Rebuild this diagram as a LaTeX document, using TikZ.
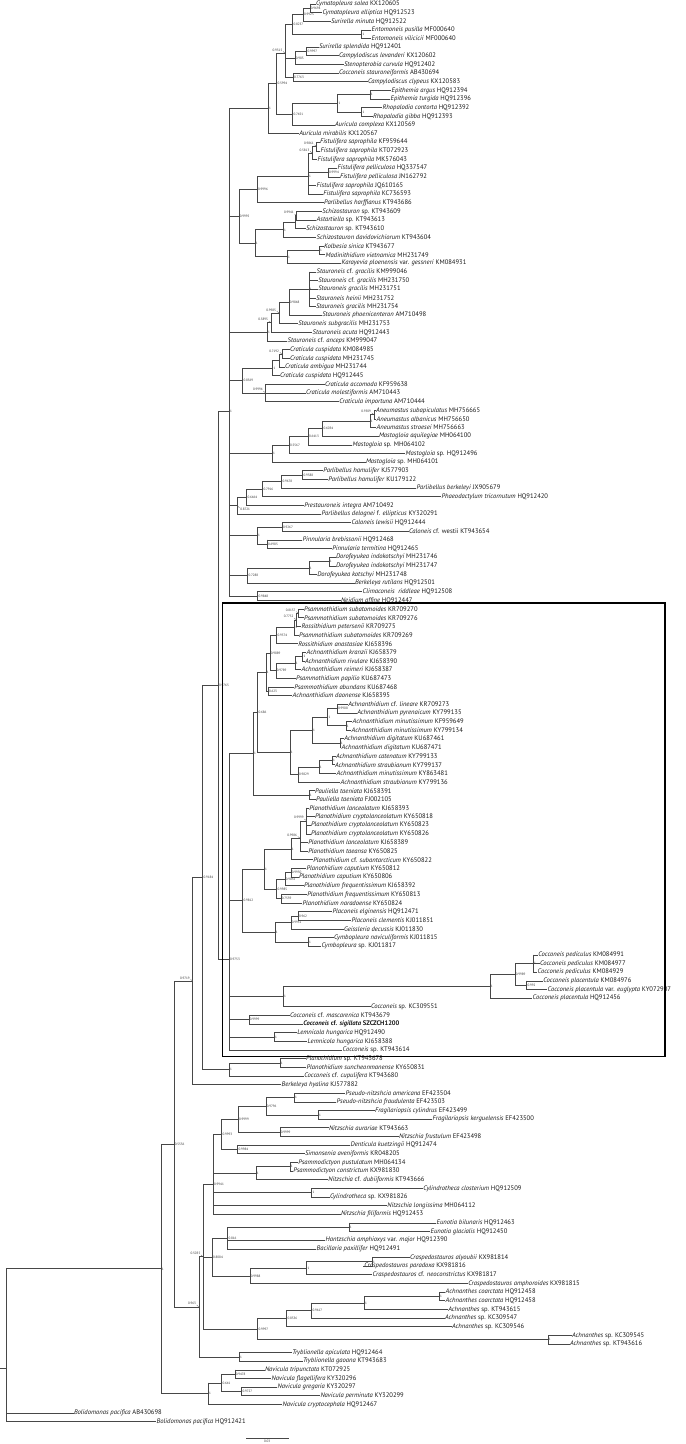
\documentclass[tikz,border=0pt]{standalone}
\usepackage{fontspec}
\setmainfont{PT Sans}
\newcommand\tx[1]{\textit{#1}}
\newdimen\ndtmp
\tikzset{
  br/.style={draw=black!72, line width=0.75pt, line cap=rect},
  lfl/.style={anchor=west, inner xsep=0.6pt, inner ysep=0pt, font=\fontsize{6.6}{7}\selectfont, text=black!90},
  sup/.style={anchor=west, inner xsep=0.6pt, inner ysep=0pt, font=\fontsize{3.3}{3.6}\selectfont, text=black!80},
  ldr/.style={draw=black!60, line width=0.3pt},
  boxst/.style={draw=black, line width=1.3pt},
}
\newcommand\lf[3]{\coordinate (L#1) at (#2-0.8,#1); \node[lfl] (T#1) at (L#1) {#3};}
\newcommand\nd[4]{%
  \gdef\ndsum{0}\gdef\ndcnt{0}\gdef\ndfirst{}%
  \foreach \c in {#3}{%
    \pgfextracty{\ndtmp}{\pgfpointanchor{\c}{center}}%
    \pgfmathsetmacro\ndtmps{\ndsum+\ndtmp}\xdef\ndsum{\ndtmps}%
    \pgfmathsetmacro\ndtmpc{\ndcnt+1}\xdef\ndcnt{\ndtmpc}%
    \ifx\ndfirst\empty\xdef\ndfirst{\c}\fi
    \xdef\ndlast{\c}%
  }%
  \pgfmathsetmacro\ndy{\ndsum/\ndcnt}%
  \coordinate (#1) at ([yshift=\ndy pt]#2,0);
  \edef\ndtmpdraw{\noexpand\draw[br] (#1 |- \ndfirst) -- (#1 |- \ndlast);}\ndtmpdraw
  \foreach \c in {#3}{\draw[br] (#1 |- \c) -- (\c);}%
  \node[sup] (#1s) at (#1) {#4};
}
\newcommand\ndq[5]{%
  \nd{#1}{#2}{#3}{}%
  \ifnum#5=0
    \node[sup, anchor=south east] (#1p) at ([xshift=-2.2pt,yshift=1.8pt]#1) {#4};
    \draw[ldr] (#1p.south east) -- (#1);
  \else
    \node[sup, anchor=north west] (#1p) at ([xshift=2.2pt,yshift=-2.2pt]#1) {#4};
    \draw[ldr] (#1p.north west) -- (#1);
  \fi
}
\begin{document}
\begin{tikzpicture}[x=1pt,y=-8.645pt]
\useasboundingbox (0,0.5373) rectangle (685,167.57);
% ---------------- leaves
\lf{1}{316}{\tx{Cymatopleura solea} KX120605}
\lf{2}{322.7}{\tx{Cymatopleura elliptica} HQ912523}
\lf{3}{331}{\tx{Surirella minuta} HQ912522}
\lf{4}{371.7}{\tx{Entomoneis pusilla} MF000640}
\lf{5}{371.7}{\tx{Entomoneis vilicicii} MF000640}
\lf{6}{319}{\tx{Surirella splendida} HQ912401}
\lf{7}{339}{\tx{Campylodiscus levanderi} KX120602}
\lf{8}{344}{\tx{Stenopterobia curvula} HQ912402}
\lf{9}{339}{\tx{Cocconeis stauroneiformis} AB430694}
\lf{10}{368}{\tx{Campylodiscus clypeus} KX120583}
\lf{11}{391.7}{\tx{Epithemia argus} HQ912394}
\lf{12}{390.7}{\tx{Epithemia turgida} HQ912396}
\lf{13}{382.7}{\tx{Rhopalodia contorta} HQ912392}
\lf{14}{373}{\tx{Rhopalodia gibba} HQ912393}
\lf{15}{335}{\tx{Auricula complexa} KX120569}
\lf{16}{299.3}{\tx{Auricula mirabilis} KX120567}
\lf{17}{320}{\tx{Fistulifera saprophila} KF959644}
\lf{18}{320.7}{\tx{Fistulifera saprophila} KT072923}
\lf{19}{317.7}{\tx{Fistulifera saprophila} MK576043}
\lf{20}{337.7}{\tx{Fistulifera pelliculosa} HQ337547}
\lf{21}{340}{\tx{Fistulifera pelliculosa} JN162792}
\lf{22}{316.7}{\tx{Fistulifera saprophila} JQ610165}
\lf{23}{323.3}{\tx{Fistulifera saprophila} KC736593}
\lf{24}{324}{\tx{Parlibellus harffianus} KT943686}
\lf{25}{322.3}{\tx{Schizostauron} sp. KT943609}
\lf{26}{316.7}{\tx{Astartiella} sp. KT943613}
\lf{27}{306}{\tx{Schizostauron} sp. KT943610}
\lf{28}{316.7}{\tx{Schizostauron davidovichiorum} KT943604}
\lf{29}{324}{\tx{Kolbesia sinica} KT943677}
\lf{30}{325.7}{\tx{Madinithidium vietnamica} MH231749}
\lf{31}{341.7}{\tx{Karayevia ploenensis} var. \tx{gessneri} KM084931}
\lf{32}{316.7}{\tx{Stauroneis} cf. \tx{gracilis} KM999046}
\lf{33}{318.3}{\tx{Stauroneis} cf. \tx{gracilis} MH231750}
\lf{34}{318.3}{\tx{Stauroneis gracilis} MH231751}
\lf{35}{316}{\tx{Stauroneis heinii} MH231752}
\lf{36}{316}{\tx{Stauroneis gracilis} MH231754}
\lf{37}{322.3}{\tx{Stauroneis phoenicenteron} AM710498}
\lf{38}{298.3}{\tx{Stauroneis subgracilis} MH231753}
\lf{39}{312.7}{\tx{Stauroneis acuta} HQ912443}
\lf{40}{287.7}{\tx{Stauroneis} cf. \tx{anceps} KM999047}
\lf{41}{290}{\tx{Craticula cuspidata} KM084985}
\lf{42}{290}{\tx{Craticula cuspidata} MH231745}
\lf{43}{285}{\tx{Craticula ambigua} MH231744}
\lf{44}{280}{\tx{Craticula cuspidata} HQ912445}
\lf{45}{325}{\tx{Craticula accomoda} KF959638}
\lf{46}{306}{\tx{Craticula molestiformis} AM710443}
\lf{47}{339.3}{\tx{Craticula importuna} AM710444}
\lf{48}{376}{\tx{Aneumastus subapiculatus} MH756665}
\lf{49}{376.7}{\tx{Aneumastus albanicus} MH756650}
\lf{50}{376.7}{\tx{Aneumastus stroesei} MH756663}
\lf{51}{379}{\tx{Mastogloia aquilegiae} MH064100}
\lf{52}{352.7}{\tx{Mastogloia} sp. MH064102}
\lf{53}{405.7}{\tx{Mastogloia} sp. HQ912496}
\lf{54}{366}{\tx{Mastogloia} sp. MH064101}
\lf{55}{323.3}{\tx{Parlibellus hamulifer} KJ577903}
\lf{56}{328.3}{\tx{Parlibellus hamulifer} KU179122}
\lf{57}{416.7}{\tx{Parlibellus berkeleyi} JX905679}
\lf{58}{441.7}{\tx{Phaeodactylum tricornutum} HQ912420}
\lf{59}{304.3}{\tx{Prestauroneis integra} AM710492}
\lf{60}{321.7}{\tx{Parlibellus delognei} f. \tx{ellipticus} KY320291}
\lf{61}{351.7}{\tx{Caloneis lewisii} HQ912444}
\lf{62}{409}{\tx{Caloneis} cf. westii KT943654}
\lf{63}{302.7}{\tx{Pinnularia brebissonii} HQ912468}
\lf{64}{332.3}{\tx{Pinnularia termitina} HQ912465}
\lf{65}{336}{\tx{Dorofeyukea indokotschyi} MH231746}
\lf{66}{336}{\tx{Dorofeyukea indokotschyi} MH231747}
\lf{67}{317.3}{\tx{Dorofeyukea kotschyi} MH231748}
\lf{68}{355}{\tx{Berkeleya rutilans} HQ912501}
\lf{69}{362.7}{\tx{Climaconeis\ \ riddleae} HQ912508}
\lf{70}{341}{\tx{Neidium affine} HQ912447}
\lf{71}{304}{\tx{Psammothidium subatomoides} KR709270}
\lf{72}{304}{\tx{Psammothidium subatomoides} KR709276}
\lf{73}{301.7}{\tx{Rossithidium petersenii} KR709275}
\lf{74}{299}{\tx{Psammothidium subatomoides} KR709269}
\lf{75}{298.3}{\tx{Rossithidium anastasiae} KJ658396}
\lf{76}{306.7}{\tx{Achnanthidium kranzii} KJ658379}
\lf{77}{305}{\tx{Achnanthidium rivulare} KJ658390}
\lf{78}{301.7}{\tx{Achnanthidium reimeri} KJ658387}
\lf{79}{296}{\tx{Psammothidium papilio} KU687473}
\lf{80}{294.3}{\tx{Psammothidium abundans} KU687468}
\lf{81}{292.7}{\tx{Achnanthidium daonense} KJ658395}
\lf{82}{348.3}{\tx{Achnanthidium} cf. \tx{lineare} KR709273}
\lf{83}{357.3}{\tx{Achnanthidium pyrenaicum} KY799135}
\lf{84}{352.7}{\tx{Achnanthidium minutissimum} KF959649}
\lf{85}{351.7}{\tx{Achnanthidium minutissimum} KY799134}
\lf{86}{344.3}{\tx{Achnanthidium digitatum} KU687461}
\lf{87}{341.7}{\tx{Achnanthidium digitatum} KU687471}
\lf{88}{336}{\tx{Achnanthidium catenatum} KY799133}
\lf{89}{335}{\tx{Achnanthidium straubianum} KY799137}
\lf{90}{336.7}{\tx{Achnanthidium minutissimum} KY863481}
\lf{91}{340.7}{\tx{Achnanthidium straubianum} KY799136}
\lf{92}{315}{\tx{Pauliella taeniata} KJ658391}
\lf{93}{316}{\tx{Pauliella taeniata} FJ002105}
\lf{94}{309.3}{\tx{Planothidium lanceolatum} KJ658393}
\lf{95}{315}{\tx{Planothidium cryptolanceolatum} KY650818}
\lf{96}{311}{\tx{Planothidium cryptolanceolatum} KY650823}
\lf{97}{311}{\tx{Planothidium cryptolanceolatum} KY650826}
\lf{98}{308.3}{\tx{Planothidium lanceolatum} KJ658389}
\lf{99}{308.3}{\tx{Planothidium taeansa} KY650825}
\lf{100}{313.3}{\tx{Planothidium} cf. \tx{subantarcticum} KY650822}
\lf{101}{306.7}{\tx{Planothidium caputium} KY650812}
\lf{102}{299}{\tx{Planothidium caputium} KY650806}
\lf{103}{304}{\tx{Planothidium frequentissimum} KJ658392}
\lf{104}{307.3}{\tx{Planothidium frequentissimum} KY650813}
\lf{105}{302.7}{\tx{Planothidium naradoense} KY650824}
\lf{106}{332.7}{\tx{Placoneis elginensis} HQ912471}
\lf{107}{351.7}{\tx{Placoneis clementis} KJ011851}
\lf{108}{344}{\tx{Geissleria decussis} KJ011830}
\lf{109}{334}{\tx{Cymbopleura naviculiformis} KJ011815}
\lf{110}{321.7}{\tx{Cymbopleura} sp. KJ011817}
\lf{111}{538.3}{\tx{Cocconeis pediculus} KM084991}
\lf{112}{540}{\tx{Cocconeis pediculus} KM084977}
\lf{113}{537.7}{\tx{Cocconeis pediculus} KM084929}
\lf{114}{543.3}{\tx{Cocconeis placentula} KM084976}
\lf{115}{547.7}{\tx{Cocconeis placentula} var. \tx{euglypta} KY072907}
\lf{116}{532.7}{\tx{Cocconeis placentula} HQ912456}
\lf{117}{371}{\tx{Cocconeis} sp. KC309551}
\lf{118}{290}{\tx{Cocconeis} cf. \tx{mascarenica} KT943679}
\lf{119}{303.3}{\textbf{\tx{Cocconeis} cf. \tx{sigillata} SZCZCH1200}}
\lf{120}{297.3}{\tx{Lemnicola hungarica} HQ912490}
\lf{121}{307.7}{\tx{Lemnicola hungarica} KJ658388}
\lf{122}{342.7}{\tx{Cocconeis} sp. KT943614}
\lf{123}{306}{\tx{Planothidium} sp. KT943678}
\lf{124}{306.7}{\tx{Planothidium suncheonmanense} KY650831}
\lf{125}{304.3}{\tx{Cocconeis} cf. \tx{cupulifera} KT943680}
\lf{126}{281.7}{\tx{Berkeleya hyalina} KJ577882}
\lf{127}{345.7}{\tx{Pseudo-nitzshcia americana} EF423504}
\lf{128}{336.7}{\tx{Pseudo-nitzshcia fraudulenta} EF423503}
\lf{129}{375}{\tx{Fragilariopsis cylindrus} EF423499}
\lf{130}{432.7}{\tx{Fragilariopsis kerguelensis} EF423500}
\lf{131}{329}{\tx{Nitzschia aurariae} KT943663}
\lf{132}{399}{\tx{Nitzschia frustulum} EF423498}
\lf{133}{350.7}{\tx{Denticula kuetzingii} HQ912474}
\lf{134}{305}{\tx{Simonsenia aveniformis} KR048205}
\lf{135}{298.3}{\tx{Psammodictyon pustulatum} MH064134}
\lf{136}{293.3}{\tx{Psammodictyon constrictum} KX981830}
\lf{137}{328.3}{\tx{Nitzschia} cf. \tx{dubiiformis} KT943666}
\lf{138}{423.3}{\tx{Cylindrotheca closterium} HQ912509}
\lf{139}{330}{\tx{Cylindrotheca} sp. KX981826}
\lf{140}{387.3}{\tx{Nitzschia longissima} MH064112}
\lf{141}{341}{\tx{Nitzschia filiformis} HQ912453}
\lf{142}{436.7}{\tx{Eunotia bilunaris} HQ912463}
\lf{143}{430.7}{\tx{Eunotia glacialis} HQ912450}
\lf{144}{325.7}{\tx{Hantzschia amphioxys} var. \tx{major} HQ912390}
\lf{145}{316.7}{\tx{Bacillaria paxillifer} HQ912491}
\lf{146}{410}{\tx{Craspedostauros alyoubii} KX981814}
\lf{147}{364.3}{\tx{Craspedostauros paradoxa} KX981816}
\lf{148}{372.7}{\tx{Craspedostauros} cf. \tx{neoconstrictus} KX981817}
\lf{149}{468.3}{\tx{Craspedostauros amphoroides} KX981815}
\lf{150}{445.7}{\tx{Achnanthes coarctata} HQ912458}
\lf{151}{445.7}{\tx{Achnanthes coarctata} HQ912458}
\lf{152}{448.3}{\tx{Achnanthes} sp. KT943615}
\lf{153}{445}{\tx{Achnanthes} sp. KC309547}
\lf{154}{452}{\tx{Achnanthes} sp. KC309546}
\lf{155}{572}{\tx{Achnanthes} sp. KC309545}
\lf{156}{570}{\tx{Achnanthes} sp. KT943616}
\lf{157}{292.3}{\tx{Tryblionella apiculata} HQ912464}
\lf{158}{303}{\tx{Tryblionella gaoana} KT943683}
\lf{159}{265}{\tx{Navicula tripunctata} KT072925}
\lf{160}{271.7}{\tx{Navicula flagellifera} KY320296}
\lf{161}{277.7}{\tx{Navicula gregaria} KY320297}
\lf{162}{320.5}{\tx{Navicula perminuta} KY320299}
\lf{163}{282.7}{\tx{Navicula cryptocephala} HQ912467}
\lf{164}{74}{\tx{Bolidomonas pacifica} AB430698}
\lf{165}{156.7}{\tx{Bolidomonas pacifica} HQ912421}
% ---------------- Surirellales
\nd{a1}{310}{L1,L2}{0.9694}
\nd{a2}{303.3}{a1,L3}{0.9925}
\nd{a3}{361.7}{L4,L5}{1}
\nd{a4}{292.7}{a2,a3}{0.8237}
\nd{a5}{306.7}{L6,L7}{0.9997}
\nd{a6}{295}{a5,L8}{0.983}
\nd{a7}{293.3}{L9,L10}{0.7763}
\ndq{a8}{285.3}{a4,a6,a7}{0.9315}{0}
\nd{a9}{370}{L11,L12}{1}
\nd{a10}{361.7}{L13,L14}{1}
\nd{a11}{337.7}{a9,a10}{1}
\nd{a12}{292.7}{a11,L15}{0.7451}
\nd{a13}{276.7}{a8,a12}{0.5994}
\nd{a14}{268.3}{a13,L16}{1}
% Fistulifera, Schizostauron
\ndq{f1}{316.7}{L17,L18}{0.9861}{0}
\ndq{f2}{312.3}{f1,L19}{0.5813}{0}
\nd{f3}{328.3}{L20,L21}{0.9994}
\nd{f4}{308.3}{f2,f3,L22,L23}{1}
\nd{f5}{257.3}{f4,L24}{0.9996}
\ndq{s1}{296.7}{L25,L26}{0.9941}{0}
\nd{s2}{295}{s1,L27}{}
\nd{s3}{283.3}{s2,L28}{1}
\nd{k1}{319.3}{L29,L30}{1}
\nd{k2}{287.3}{k1,L31}{1}
\nd{s4}{255}{s3,k2}{1}
\nd{f6}{239}{f5,s4}{0.9995}
% Stauroneis
\nd{t1}{309}{L32,L33,L34,L35,L36}{1}
\nd{t2}{289}{t1,L37}{0.9848}
\ndq{t3}{279}{t2,L38}{0.9985}{0}
\ndq{t4}{271}{t3,L39}{0.5895}{0}
\nd{t5}{267.3}{t4,L40}{1}
% Craticula
\ndq{c1}{282}{L41,L42}{0.7192}{0}
\nd{c2}{279.5}{c1,L43}{}
\nd{c3}{272.7}{c2,L44}{1}
\ndq{c4}{265.7}{L45,L46,L47}{0.9994}{0}
\nd{c5}{242.7}{c3,c4}{0.8569}
% Mastogloia
\ndq{m1}{374}{L48,L49}{0.9309}{0}
\nd{m2}{370}{m1,L50}{1}
\nd{m3}{322.7}{m2,L51}{0.6034}
\nd{m4}{308.3}{m3,L52}{0.6413}
\nd{m5}{289.3}{m4,L53}{0.5567}
\nd{m6}{272.3}{m5,L54}{1}
% Parlibellus
\nd{p1}{302.7}{L55,L56}{0.9388}
\nd{p2}{281.7}{p1,L57}{0.9678}
\nd{p3}{262.7}{p2,L58}{0.7916}
\nd{p4}{246.7}{p3,L59}{0.6464}
\ndq{p5}{237.3}{p4,L60}{0.8721}{1}
% Caloneis etc.
\nd{w1}{282.3}{L61,L62}{0.9267}
\nd{w2}{267.3}{L63,L64}{0.6985}
\nd{w3}{257.3}{w1,w2}{1}
\nd{d1}{329}{L65,L66}{1}
\nd{d2}{309}{d1,L67}{1}
\nd{d3}{247.7}{d2,L68}{0.7288}
\nd{cn}{257.7}{L69,L70}{0.9848}
\nd{D1}{229.3}{a14,f6,t5,c5,m6,p5,w3,d3,cn}{1}
% ---------------- boxed clade
\ndq{q1}{298.5}{L71,L72}{0.8137}{0}
\ndq{q2}{296.5}{q1,L73}{0.7752}{0}
\nd{q3}{294.5}{q2,L74}{1}
\nd{q4}{276.7}{q3,L75}{0.9574}
\nd{q5}{302.7}{L76,L77}{1}
\nd{q6}{295}{q5,L78}{1}
\nd{q7}{276}{q6,L79}{0.9789}
\nd{q8}{270}{q4,q7}{0.9889}
\nd{q9}{268.3}{L80,L81}{0.623}
\nd{q10}{266}{q8,q9}{1}
\nd{r1}{337.3}{L82,L83}{0.9908}
\nd{r2}{346}{L84,L85}{1}
\nd{r3}{327.7}{r1,r2}{1}
\nd{r4}{340}{L86,L87}{1}
\nd{r5}{312.3}{r3,r4}{1}
\nd{r6}{332.3}{L88,L89}{1}
\nd{r7}{319}{r6,L90}{1}
\nd{r8}{298.3}{r7,L91}{0.9829}
\nd{r9}{290}{r5,r8}{1}
\nd{r10}{257.7}{q10,r9}{0.686}
\nd{r11}{309}{L92,L93}{1}
\nd{r12}{253.3}{r10,r11}{1}
\ndq{g1}{306.7}{L94,L95,L96,L97}{0.9999}{0}
\ndq{g2}{300}{g1,L98,L99}{0.9986}{0}
\nd{g3}{291}{g2,L100}{1}
\nd{g4}{291}{L101,L102}{0.9930}
\nd{g5}{285}{g4,L103}{0.9035}
\nd{g6}{281}{L104,L105}{0.7539}
\nd{g7}{276.7}{g5,g6}{0.9985}
\nd{g8}{264.3}{g3,g7}{1}
\nd{h1}{298.3}{L106,L107}{0.962}
\nd{h2}{291}{h1,L108}{0.9951}
\nd{h3}{308.3}{L109,L110}{1}
\nd{h4}{275}{h2,h3}{1}
\nd{h5}{242.7}{g8,h4}{0.9812}
\nd{e1}{533.3}{L111,L112,L113}{1}
\nd{e2}{526.7}{L114,L115}{0.992}
\nd{e3}{515}{e1,e2}{0.9989}
\nd{e4}{490}{e3,L116}{1}
\nd{e5}{283.3}{e4,L117}{1}
\nd{e6}{249}{L118,L119}{0.9999}
\nd{e7}{274.3}{L120,L121}{1}
\nd{B}{229.3}{r12,h5,e5,e6,e7,L122}{0.9753}
% ---------------- backbone
\nd{n9765}{218.3}{D1,B}{0.9765}
\nd{ps}{280}{L123,L124}{1}
\nd{pcu}{229.3}{ps,L125}{1}
\nd{n9184}{202.7}{n9765,pcu}{0.9184}
\ndq{n9719}{192.7}{n9184,L126}{0.9719}{0}
% ---------------- lower part
\nd{u1}{294.3}{L127,L128}{1}
\nd{u2}{318.3}{L129,L130}{1}
\nd{u3}{266}{u1,u2}{0.9796}
\nd{u4}{280}{L131,L132}{0.9999}
\nd{u5}{238.3}{u3,u4}{0.9999}
\nd{u6}{237.7}{L133,L134}{0.9984}
\nd{u7}{221.7}{u5,u6}{0.9993}
\nd{u8}{290}{L135,L136}{1}
\nd{u9}{256}{u8,L137}{1}
\nd{u10}{311.7}{L138,L139}{1}
\nd{u11}{213.3}{u7,u9,u10,L140,L141}{0.9941}
\nd{v1}{349}{L142,L143}{1}
\nd{v2}{227.7}{v1,L144,L145}{0.816}
\nd{v3}{372.3}{L146,L147}{1}
\nd{v4}{306.7}{v3,L148}{1}
\nd{v5}{250}{v4,L149}{0.9988}
\nd{v6}{212.3}{v2,v5}{0.8084}
\nd{x1}{439.3}{L150,L151}{1}
\nd{x2}{364.3}{x1,L152}{1}
\nd{x3}{311.7}{x2,L153}{0.9617}
\nd{x4}{286.7}{x3,L154}{0.8336}
\nd{x5}{548}{L155,L156}{1}
\nd{x6}{257.7}{x4,x5}{0.9997}
\ndq{n5035}{203.3}{u11,v6,x6}{0.5035}{0}
\nd{tr}{239.3}{L157,L158}{1}
\ndq{n963}{199}{n5035,tr}{0.963}{0}
\nd{n5536}{174}{n9719,n963}{0.5536}
\nd{y1}{235}{L159,L160}{0.9478}
\nd{y2}{241.7}{L161,L162}{0.9727}
\nd{y3}{221.7}{y1,y2}{0.641}
\nd{y4}{208.3}{y3,L163}{1}
\nd{n1}{161}{n5536,y4}{1}
\nd{root}{6}{n1,L164,L165}{}
\coordinate (rootstub) at ([xshift=-6pt]root);
\draw[br] (rootstub) -- (root);
% ---------------- box and scale bar
\coordinate (bx1) at (222.7,70.29);
\coordinate (bx2) at (665,122.72);
\draw[boxst] (bx1) rectangle (bx2);
\coordinate (sb1) at (246,166.91);
\coordinate (sb2) at (288.3,166.91);
\draw[br] (sb1) -- (sb2);
\node[sup, anchor=north] (sbl) at ([yshift=-1.5pt]267.15,166.91) {0.03};
\end{tikzpicture}
\end{document}
